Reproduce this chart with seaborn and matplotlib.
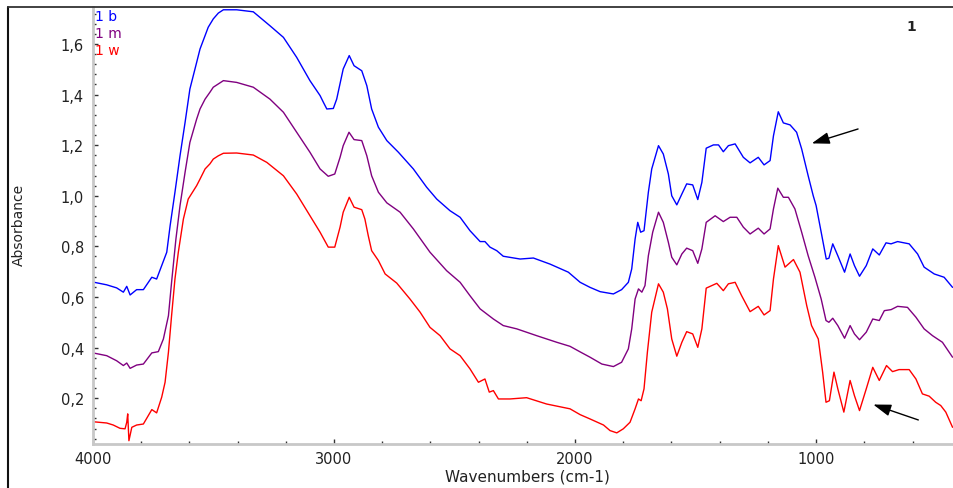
import matplotlib
matplotlib.use("Agg")
import matplotlib.pyplot as plt
import numpy as np
import pandas as pd
import seaborn as sns
from matplotlib.lines import Line2D
from matplotlib.ticker import MultipleLocator, FuncFormatter

# ---- FTIR spectra (wavenumber in cm-1, absorbance) ----
wn_1b = [4000, 3943, 3902, 3874, 3860, 3846, 3819, 3791, 3756, 3736, 3715, 3694, 3680, 3660,
         3639, 3618, 3598, 3570, 3556, 3535, 3522, 3501, 3480, 3459, 3404, 3335, 3266, 3210,
         3155, 3100, 3058, 3044, 3030, 3003, 2989, 2962, 2937, 2917, 2885, 2864, 2844, 2816,
         2781, 2733, 2671, 2616, 2574, 2519, 2477, 2436, 2394, 2374, 2353, 2325, 2298, 2228,
         2173, 2104, 2028, 1979, 1938, 1896, 1841, 1807, 1779, 1765, 1751, 1740, 1728, 1714,
         1696, 1682, 1654, 1634, 1613, 1599, 1578, 1557, 1537, 1512, 1491, 1474, 1456, 1426,
         1405, 1385, 1364, 1336, 1302, 1274, 1240, 1216, 1191, 1177, 1157, 1136, 1108, 1081,
         1060, 1033, 1012, 1000, 979, 958, 947, 931, 910, 882, 859, 841, 820, 792, 765, 738,
         710, 689, 662, 614, 579, 552, 510, 469, 434]
abs_1b = [0.659, 0.648, 0.636, 0.619, 0.642, 0.608, 0.629, 0.629, 0.678, 0.671, 0.724, 0.777,
          0.882, 1.014, 1.158, 1.290, 1.422, 1.527, 1.580, 1.633, 1.666, 1.699, 1.722, 1.735,
          1.735, 1.727, 1.672, 1.626, 1.547, 1.455, 1.396, 1.369, 1.343, 1.345, 1.382, 1.501,
          1.554, 1.514, 1.494, 1.435, 1.343, 1.271, 1.218, 1.172, 1.106, 1.034, 0.987, 0.941,
          0.915, 0.862, 0.819, 0.819, 0.797, 0.783, 0.761, 0.750, 0.754, 0.730, 0.698, 0.658,
          0.638, 0.621, 0.612, 0.629, 0.658, 0.711, 0.829, 0.895, 0.856, 0.862, 1.014, 1.106,
          1.198, 1.165, 1.086, 1.000, 0.964, 1.007, 1.047, 1.043, 0.985, 1.053, 1.188, 1.201,
          1.201, 1.174, 1.198, 1.205, 1.152, 1.130, 1.152, 1.122, 1.139, 1.237, 1.332, 1.288,
          1.280, 1.251, 1.185, 1.079, 1.000, 0.961, 0.856, 0.750, 0.753, 0.810, 0.763, 0.698,
          0.770, 0.724, 0.682, 0.724, 0.790, 0.766, 0.814, 0.810, 0.819, 0.810, 0.770, 0.718,
          0.691, 0.678, 0.638]

wn_1m = [4000, 3943, 3902, 3874, 3860, 3846, 3819, 3791, 3756, 3729, 3708, 3687, 3674, 3656,
         3639, 3618, 3598, 3570, 3556, 3535, 3515, 3501, 3480, 3459, 3404, 3335, 3266, 3210,
         3155, 3100, 3058, 3024, 2997, 2975, 2962, 2938, 2917, 2885, 2864, 2844, 2816, 2781,
         2726, 2671, 2602, 2533, 2477, 2436, 2394, 2339, 2298, 2242, 2159, 2076, 2021, 1979,
         1938, 1889, 1841, 1807, 1779, 1765, 1751, 1737, 1723, 1710, 1696, 1678, 1654, 1634,
         1613, 1599, 1578, 1557, 1537, 1512, 1491, 1474, 1456, 1419, 1385, 1357, 1329, 1302,
         1274, 1240, 1216, 1191, 1177, 1159, 1136, 1115, 1088, 1060, 1033, 1005, 979, 959, 947,
         931, 910, 882, 859, 841, 820, 792, 765, 738, 717, 689, 662, 621, 586, 552, 517, 476,
         434]
abs_1m = [0.379, 0.368, 0.348, 0.329, 0.339, 0.318, 0.331, 0.335, 0.379, 0.384, 0.434, 0.526,
          0.658, 0.829, 0.961, 1.093, 1.211, 1.303, 1.343, 1.382, 1.409, 1.429, 1.442, 1.455,
          1.448, 1.429, 1.382, 1.330, 1.251, 1.172, 1.106, 1.077, 1.086, 1.152, 1.198, 1.251,
          1.222, 1.218, 1.158, 1.079, 1.014, 0.972, 0.935, 0.869, 0.777, 0.704, 0.658, 0.605,
          0.553, 0.513, 0.487, 0.474, 0.447, 0.421, 0.405, 0.383, 0.362, 0.335, 0.325, 0.342,
          0.395, 0.474, 0.592, 0.632, 0.619, 0.645, 0.763, 0.856, 0.935, 0.895, 0.816, 0.757,
          0.727, 0.770, 0.793, 0.783, 0.733, 0.790, 0.895, 0.921, 0.898, 0.915, 0.915, 0.876,
          0.849, 0.872, 0.849, 0.869, 0.948, 1.030, 0.994, 0.994, 0.948, 0.856, 0.763, 0.678,
          0.592, 0.507, 0.500, 0.516, 0.487, 0.437, 0.487, 0.454, 0.431, 0.461, 0.513, 0.507,
          0.546, 0.550, 0.563, 0.559, 0.520, 0.474, 0.447, 0.421, 0.362]

wn_1w = [4000, 3943, 3916, 3888, 3867, 3860, 3856, 3851, 3839, 3819, 3791, 3756, 3736, 3715,
         3701, 3687, 3674, 3660, 3646, 3625, 3605, 3570, 3556, 3535, 3515, 3501, 3480, 3459,
         3404, 3335, 3279, 3210, 3155, 3100, 3058, 3024, 2997, 2975, 2962, 2937, 2917, 2885,
         2872, 2858, 2844, 2816, 2788, 2740, 2685, 2643, 2602, 2560, 2519, 2477, 2436, 2401,
         2374, 2356, 2339, 2318, 2270, 2201, 2118, 2021, 1979, 1938, 1882, 1855, 1827, 1800,
         1772, 1751, 1737, 1726, 1714, 1700, 1682, 1654, 1634, 1617, 1599, 1578, 1557, 1537,
         1512, 1491, 1474, 1456, 1433, 1412, 1385, 1364, 1336, 1309, 1274, 1240, 1216, 1191,
         1177, 1157, 1129, 1094, 1067, 1039, 1019, 991, 973, 959, 945, 926, 910, 885, 859, 841,
         820, 792, 765, 738, 708, 683, 656, 614, 586, 559, 531, 504, 483, 462, 434]
abs_1w = [0.107, 0.102, 0.094, 0.081, 0.079, 0.105, 0.138, 0.032, 0.085, 0.094, 0.098, 0.155,
          0.142, 0.204, 0.263, 0.382, 0.526, 0.671, 0.777, 0.908, 0.987, 1.040, 1.066, 1.106,
          1.126, 1.145, 1.158, 1.168, 1.169, 1.161, 1.132, 1.079, 1.007, 0.921, 0.856, 0.797,
          0.797, 0.876, 0.935, 0.994, 0.955, 0.945, 0.908, 0.842, 0.783, 0.744, 0.691, 0.655,
          0.592, 0.540, 0.480, 0.447, 0.395, 0.368, 0.316, 0.263, 0.276, 0.224, 0.230, 0.197,
          0.197, 0.202, 0.177, 0.158, 0.135, 0.118, 0.094, 0.072, 0.063, 0.079, 0.105, 0.158,
          0.197, 0.190, 0.237, 0.382, 0.540, 0.652, 0.619, 0.553, 0.434, 0.366, 0.421, 0.463,
          0.454, 0.401, 0.474, 0.635, 0.645, 0.654, 0.625, 0.652, 0.658, 0.605, 0.542, 0.563,
          0.529, 0.546, 0.671, 0.803, 0.718, 0.748, 0.698, 0.566, 0.487, 0.434, 0.303, 0.184,
          0.190, 0.303, 0.237, 0.145, 0.270, 0.210, 0.151, 0.237, 0.322, 0.270, 0.329, 0.305,
          0.313, 0.313, 0.276, 0.217, 0.208, 0.184, 0.171, 0.145, 0.085]

sample_names = ["1 b", "1 m", "1 w"]
sample_colors = ["#0000ff", "#800080", "#ff0000"]
x_ticks = [4000, 3000, 2000, 1000]
y_ticks = [0.2, 0.4, 0.6, 0.8, 1.0, 1.2, 1.4, 1.6]

spectra = pd.concat(
    [pd.DataFrame({"wavenumber": w, "absorbance": a, "sample": s})
     for w, a, s in zip([wn_1b, wn_1m, wn_1w], [abs_1b, abs_1m, abs_1w], sample_names)],
    ignore_index=True)

sns.set_theme(style="white")
plt.rcParams["font.family"] = ["DejaVu Sans"]

W, H = 954, 489
fig = plt.figure(figsize=(W / 100, H / 100), dpi=100)
fig.patch.set_facecolor("white")
ax = fig.add_axes([93 / W, 44 / H, (W - 93) / W, 437 / H])

sns.lineplot(data=spectra, x="wavenumber", y="absorbance", hue="sample",
             palette=dict(zip(sample_names, sample_colors)), estimator=None, sort=False,
             linewidth=1.0, legend=False, ax=ax)

ax.set_xlim(4000, 428)
ax.set_ylim(0.019, 1.746)
ax.set_xlabel("")
ax.set_ylabel("")

ax.set_xticks(x_ticks)
ax.xaxis.set_minor_locator(MultipleLocator(200))
ax.set_yticks(y_ticks)
ax.yaxis.set_minor_locator(MultipleLocator(0.04))
ax.yaxis.set_major_formatter(FuncFormatter(lambda v, p: f"{v:.1f}".replace(".", ",")))
ax.xaxis.set_major_formatter(FuncFormatter(lambda v, p: f"{v:.0f}"))

for side in ("top", "right"):
    ax.spines[side].set_visible(False)
for side in ("left", "bottom"):
    ax.spines[side].set_color("#c8c8c8")
    ax.spines[side].set_linewidth(2.0)

ax.tick_params(which="both", bottom=True, left=True, direction="in", color="#333333", width=1.0)
ax.tick_params(which="major", length=3.5)
ax.tick_params(which="minor", length=2.5)
ax.tick_params(axis="y", which="major", labelsize=10.5, pad=6.5, labelcolor="#222222")
ax.tick_params(axis="x", which="major", labelsize=10.5, pad=5, labelcolor="#222222")

fig.text(527 / W, 1 - 477.5 / H, "Wavenumbers (cm-1)", ha="center", va="center",
         fontsize=11, color="#222222")
fig.text(19 / W, 1 - 225 / H, "Absorbance", ha="center", va="center", rotation=90,
         fontsize=10, color="#222222")

# sample labels in the upper-left corner
for i, (name, col) in enumerate(zip(sample_names, sample_colors)):
    fig.text(95 / W, 1 - (17 + 17 * i) / H, name, ha="left", va="center",
             fontsize=10, color=col)

fig.text(911 / W, 1 - 27 / H, "1", ha="center", va="center", fontsize=10,
         fontweight="bold", color="#222222")

arrow = dict(arrowstyle="-|>,head_length=0.9,head_width=0.3", color="black", lw=1.0,
             mutation_scale=12, shrinkA=0, shrinkB=0)
ax.annotate("", xy=(1018, 1.207), xytext=(826, 1.264), arrowprops=arrow)
ax.annotate("", xy=(763, 0.175), xytext=(576, 0.114), arrowprops=arrow)

# outer frame
fig.add_artist(Line2D([8 / W, 8 / W], [0, 1 - 8 / H], transform=fig.transFigure,
                      color="#111111", lw=1.5))
fig.add_artist(Line2D([8 / W, 1], [1 - 8 / H, 1 - 8 / H], transform=fig.transFigure,
                      color="#333333", lw=1.3))

fig.savefig("out.png", dpi=100)
